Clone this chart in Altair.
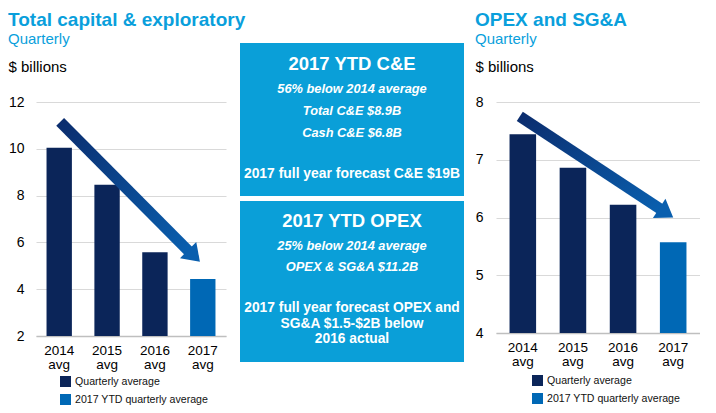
import altair as alt
import pandas as pd

FONT = "Liberation Sans"
TITLE_BLUE = "#0a9fdc"
NAVY = "#0b2559"
BLUE = "#0068b5"
BOX = "#0a9fd8"
ARROW_START = "#0b2d6e"
ARROW_END = "#0a5fae"

# ---- data ----
categories = ["2014 avg", "2015 avg", "2016 avg", "2017 avg"]
series = ["Quarterly average", "Quarterly average", "Quarterly average",
          "2017 YTD quarterly average"]
legend_labels = ["Quarterly average", "2017 YTD quarterly average"]
ce_values = [10.05, 8.46, 5.58, 4.44]
opex_values = [7.44, 6.86, 6.22, 5.57]
ce_ticks = [2, 4, 6, 8, 10, 12]
opex_ticks = [4, 5, 6, 7, 8]

# arrows: position along the category index, value in $ billions
ce_arrow_pos = [0.02, 2.71]
ce_arrow_val = [11.15, 5.62]
ce_head_pos = [2.94]
ce_head_val = [5.17]
opex_arrow_pos = [-0.06, 2.74]
opex_arrow_val = [7.75, 6.15]
opex_head_pos = [3.0]
opex_head_val = [6.0]

box1_title = "2017 YTD C&E"
box1_lines = ["56% below 2014 average", "Total C&E $8.9B", "Cash C&E $6.8B"]
box1_note = ["2017 full year forecast C&E $19B"]
box2_title = "2017 YTD OPEX"
box2_lines = ["25% below 2014 average", "OPEX & SG&A $11.2B"]
box2_note = ["2017 full year forecast OPEX and", "SG&A $1.5-$2B below", "2016 actual"]


def panel(title, values, ticks, domain, arrow_pos, arrow_val, head_pos, head_val,
          head_angle, width, height, pad_outer, label_pad, title_x, legend_x, legend_y):
    pad_inner = 0.47
    q = pad_outer + 0.5 - pad_inner / 2
    xq = alt.Scale(domain=[-q, len(categories) - 1 + q], nice=False, zero=False)
    ys = alt.Scale(domain=domain, nice=False, zero=False)
    yaxis = alt.Axis(values=ticks, title="$ billions", titleAngle=0,
                     titleAlign="left", titleBaseline="alphabetic",
                     titleX=title_x, titleY=-31, titleFontSize=15,
                     titleFontWeight="normal", titleColor="black",
                     titleFont=FONT, labelFont=FONT,
                     labelFontSize=14, labelPadding=label_pad,
                     labelColor="black", domain=False, ticks=False,
                     gridColor="#d9d9d9", gridWidth=1.2)

    bars_df = pd.DataFrame({"category": categories, "value": values, "series": series})
    bars = alt.Chart(bars_df).mark_bar().encode(
        x=alt.X("category:N", sort=categories,
                scale=alt.Scale(paddingInner=pad_inner, paddingOuter=pad_outer),
                axis=alt.Axis(title=None, labelAngle=0,
                              labelExpr="split(datum.value, ' ')",
                              ticks=False, grid=False, domain=True,
                              domainColor="#bfbfbf", domainWidth=1.5,
                              labelFontSize=13.5, labelLineHeight=14,
                              labelPadding=7, labelColor="black", labelFont=FONT)),
        y=alt.Y("value:Q", scale=ys, axis=yaxis),
        y2=alt.Y2(datum=domain[0]),
        color=alt.Color("series:N",
                        scale=alt.Scale(domain=legend_labels, range=[NAVY, BLUE]),
                        legend=alt.Legend(orient="none", legendX=legend_x,
                                          legendY=legend_y, title=None,
                                          symbolType="square", symbolSize=121,
                                          symbolStrokeWidth=0, labelFontSize=10.6,
                                          labelFont=FONT, labelColor="#111111",
                                          labelOffset=4, rowPadding=6, padding=0,
                                          direction="vertical")),
    )

    arrow_df = pd.DataFrame({"pos": arrow_pos, "value": arrow_val})
    arrow = alt.Chart(arrow_df).mark_line(
        strokeWidth=11, strokeCap="butt",
        color=alt.LinearGradient(
            gradient="linear",
            stops=[alt.GradientStop(color=ARROW_START, offset=0),
                   alt.GradientStop(color=ARROW_END, offset=1)],
            x1=0, x2=1, y1=0, y2=1),
    ).encode(
        x=alt.X("pos:Q", scale=xq, axis=None),
        y=alt.Y("value:Q", scale=ys, axis=yaxis),
    )

    head_df = pd.DataFrame({"pos": head_pos, "value": head_val})
    head = alt.Chart(head_df).mark_point(
        shape="M0,0L1,1.45L-1,1.45Z", size=529, filled=True, opacity=1,
        color=ARROW_END, angle=head_angle, strokeWidth=0,
    ).encode(
        x=alt.X("pos:Q", scale=xq, axis=None),
        y=alt.Y("value:Q", scale=ys, axis=yaxis),
    )

    return alt.layer(bars, arrow, head).resolve_scale(x="independent").properties(
        width=width, height=height,
        title=alt.TitleParams(text=title, subtitle="Quarterly", anchor="start",
                              frame="bounds", font=FONT, fontSize=19,
                              fontWeight="bold", color=TITLE_BLUE,
                              subtitleFont=FONT, subtitleFontSize=15,
                              subtitleColor=TITLE_BLUE, subtitlePadding=2,
                              offset=12),
    )


left = panel("Total capital & exploratory", ce_values, ce_ticks, [2, 12],
             ce_arrow_pos, ce_arrow_val, ce_head_pos, ce_head_val, 135,
             190, 234, 0.22, 12, -28, 24, 274)
right = panel("OPEX and SG&A", opex_values, opex_ticks, [4, 8],
              opex_arrow_pos, opex_arrow_val, opex_head_pos, opex_head_val, 123,
              204, 231, 0.27, 13, -21, 36, 273)

one = pd.DataFrame({"k": [0]})
BX1, BX2 = 14, 238
CX = (BX1 + BX2) / 2


def box(y1, y2):
    return alt.Chart(one).mark_rect(color=BOX).encode(
        x=alt.value(BX1), x2=alt.value(BX2), y=alt.value(y1), y2=alt.value(y2))


def txt(lines, y, size, italic=False, lh=None):
    return alt.Chart(one).mark_text(
        align="center", baseline="alphabetic", font=FONT, fontSize=size,
        fontWeight="bold", fontStyle="italic" if italic else "normal",
        color="white", lineHeight=lh if lh else size * 1.2,
    ).encode(x=alt.value(CX), y=alt.value(y), text=alt.value(lines))


middle = alt.layer(
    box(-59, 94),
    box(99, 260),
    txt(box1_title, -32, 18.5),
    txt(box1_lines, -9, 12.8, True, 22),
    txt(box1_note, 76, 13.9),
    txt(box2_title, 125, 18.5),
    txt(box2_lines, 148, 12.8, True, 21),
    txt(box2_note, 210, 13.8, False, 15.7),
).properties(width=270, height=234)

chart = alt.hconcat(left, middle, right, spacing=0, bounds="flush").resolve_scale(
    color="independent").resolve_legend(color="independent").properties(
    padding={"top": 3, "left": 0, "right": 0, "bottom": 0}).configure(
    font=FONT).configure_view(stroke=None)

chart.save("out.html", embed_options={"renderer": "svg", "actions": False})
